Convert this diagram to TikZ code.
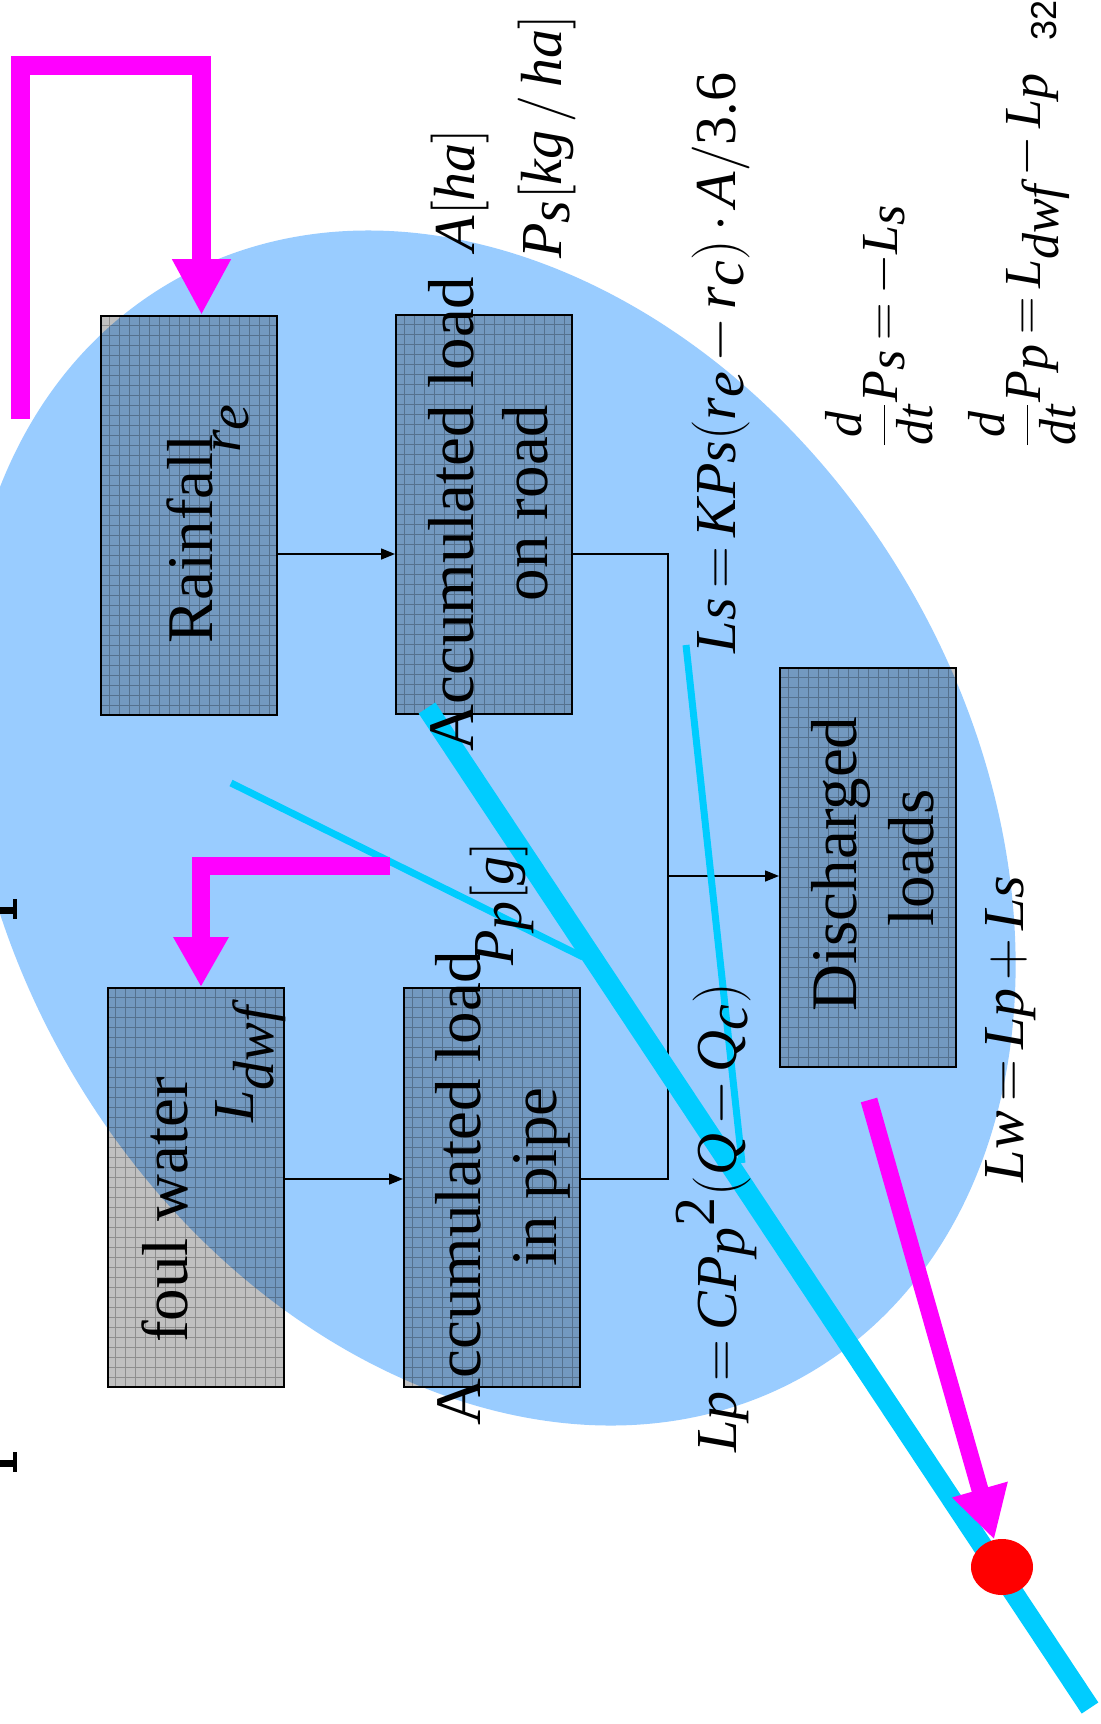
\RequirePackage{fix-cm}
\documentclass[tikz,border=0pt]{standalone}
\usepackage{fontspec}
\setmainfont{Liberation Serif}
\setsansfont{Liberation Sans}
\usetikzlibrary{arrows.meta,calc,shapes.geometric}
\definecolor{ellblue}{HTML}{99CCFF}
\definecolor{cyanl}{HTML}{00CCFF}
\definecolor{mag}{HTML}{FF00FF}
\definecolor{boxgrey}{HTML}{C0C0C0}
\definecolor{gridgrey}{HTML}{8E8E8E}
\newcommand{\I}[1]{\textit{#1}}
\thickmuskip=3mu plus 1mu
\medmuskip=2.5mu plus 1mu
\begin{document}
\begin{tikzpicture}[x=0.5pt,y=-0.5pt,
  box/.style={draw=black, line width=1pt, fill=boxgrey, minimum width=88pt, minimum height=199.5pt, inner sep=0pt,
    path picture={\draw[gridgrey, line width=0.35pt, step=5pt] (path picture bounding box.south west) grid (path picture bounding box.north east);}},
  lbl/.style={rotate=90, anchor=base, inner sep=0pt, font=\fontsize{32.5}{36}\selectfont},
  mth/.style={rotate=90, anchor=base, inner sep=0pt, font=\fontsize{29}{34}\selectfont},
  eqn/.style={rotate=90, anchor=base west, inner sep=0pt, font=\fontsize{26}{30}\selectfont},
  conn/.style={line width=0.75pt, -{Triangle[width=5.5pt,length=7pt]}},
  mg/.style={mag, line width=9.5pt},
  cythick/.style={cyanl, line width=10pt},
  cythin/.style={cyanl, line width=3.5pt}]
\useasboundingbox (0,0) rectangle (1101,1724);
\fill[white] (0,0) rectangle (1101,1724);
\begin{scope}
\clip (0,0) rectangle (1101,1724);
% boxes
\node[box] (rain) at (189,515.5) {};
\node[box] (road) at (484,514.5) {};
\node[box] (foul) at (195.5,1187.5) {};
\node[box] (pipe) at (492,1187.5) {};
\node[box] (dis)  at (868,867.5) {};
% ellipse
\begin{scope}[blend mode=multiply]
\fill[ellblue, rotate around={-59.5:(489.5,828)}] (489.5,828) ellipse (316pt and 242pt);
\end{scope}
% left marks
\fill (0,906.5) rectangle (14,913.5);
\fill (13,899) rectangle (16.5,919);
\fill (0,1459.5) rectangle (14,1466.5);
\fill (13,1452) rectangle (16.5,1472);
% connectors
\coordinate (yr) at (0,554);
\coordinate (yp) at (0,1179);
\coordinate (bus) at (668,876);
\draw[conn] (rain.east |- yr) -- (road.west |- yr);
\draw[conn] (foul.east |- yp) -- (pipe.west |- yp);
\draw[line width=0.75pt] (road.east |- yr) -- (bus |- yr) -- (bus |- yp) -- (pipe.east |- yp);
\draw[conn] (bus) -- (dis.west |- bus);
% cyan lines
\coordinate (c1) at (427,708);
\coordinate (c2) at (1090,1708);
\coordinate (t1a) at (231,783);
\coordinate (t1b) at (583,957);
\coordinate (t2a) at (686,645);
\coordinate (t2b) at (742,1163);
\draw[cythick] (c1) -- (c2);
\draw[cythin] (t1a) -- (t1b);
\draw[cythin] (t2a) -- (t2b);
% red dot
\node[ellipse, fill=red, minimum width=31pt, minimum height=28pt, inner sep=0pt] (dot) at (1002,1567) {};
% magenta arrows
\coordinate (m1a) at (20,419);
\coordinate (m1c) at (201.5,65.5);
\draw[mg, -{Triangle[width=27.5pt,length=28pt]}] (m1a) -- (m1a |- m1c) -- (m1c) -- (rain.north -| m1c);
\coordinate (m2a) at (390,866);
\coordinate (m2c) at (201,866);
\draw[mg, line width=9pt, -{Triangle[width=26pt,length=25pt]}] (m2a) -- (m2c) -- (foul.north -| m2c);
\coordinate (m3a) at (869,1100);
\draw[mg, line width=8.5pt, -{Triangle[width=27pt,length=26pt]}] (m3a) -- (dot);
% texts
\node[lbl] (tRain) at (212,539) {Rainfall};
\node[mth] (tre) at (240,428) {$\I{r}_{\I{e}}$};
\node[lbl] (tRoad1) at (473,514) {Accumulated load};
\node[lbl] (tRoad2) at (547,503) {on road};
\node[mth] (tA) at (474,190) {$\I{A}[\I{ha}]$};
\node[mth] (tPs) at (561,137) {$\I{P}_{\I{s}}[\I{kg}\mathbin{/}\I{ha}]$};
\node[mth] (tLs) at (735,363) {$\I{Ls}=\I{KPs}(\I{r}_{\I{e}}-\I{r}_{\I{c}})\cdot\I{A}/\textup{3.6}$};
\node[lbl] (tFoul) at (187,1210) {foul water};
\node[mth] (tLdwf) at (253,1064) {$\I{L}_{\I{dwf}}$};
\node[lbl] (tPipe1) at (480,1188) {Accumulated load};
\node[lbl] (tPipe2) at (556,1177) {in pipe};
\node[mth] (tPp) at (513,904) {$\I{P}_{\I{p}}[\I{g}]$};
\node[mth] (tLp) at (736,1218) {$\I{Lp}=\I{CP}_{\I{p}}{}^{\textup{2}}(\I{Q}-\I{Q}_{\I{c}})$};
\node[lbl] (tDis1) at (856,864) {Discharged};
\node[lbl] (tDis2) at (933,858) {loads};
\node[mth] (tLw) at (1023,1029) {$\I{Lw}=\I{Lp}+\I{Ls}$};
\node[eqn] (eq1) at (897,448) {$\displaystyle\frac{\I{d}}{\I{dt}}\I{P}_{\I{s}}=-\I{L}_{\I{s}}$};
\node[eqn] (eq2) at (1040,448) {$\displaystyle\frac{\I{d}}{\I{dt}}\I{P}_{\I{p}}=\I{L}_{\I{dwf}}-\I{L}_{\I{p}}$};
\node[rotate=90, anchor=base, inner sep=0pt, font=\sffamily\fontsize{18}{20}\selectfont] (pg) at (1056,20) {32};
\end{scope}
\end{tikzpicture}
\end{document}
